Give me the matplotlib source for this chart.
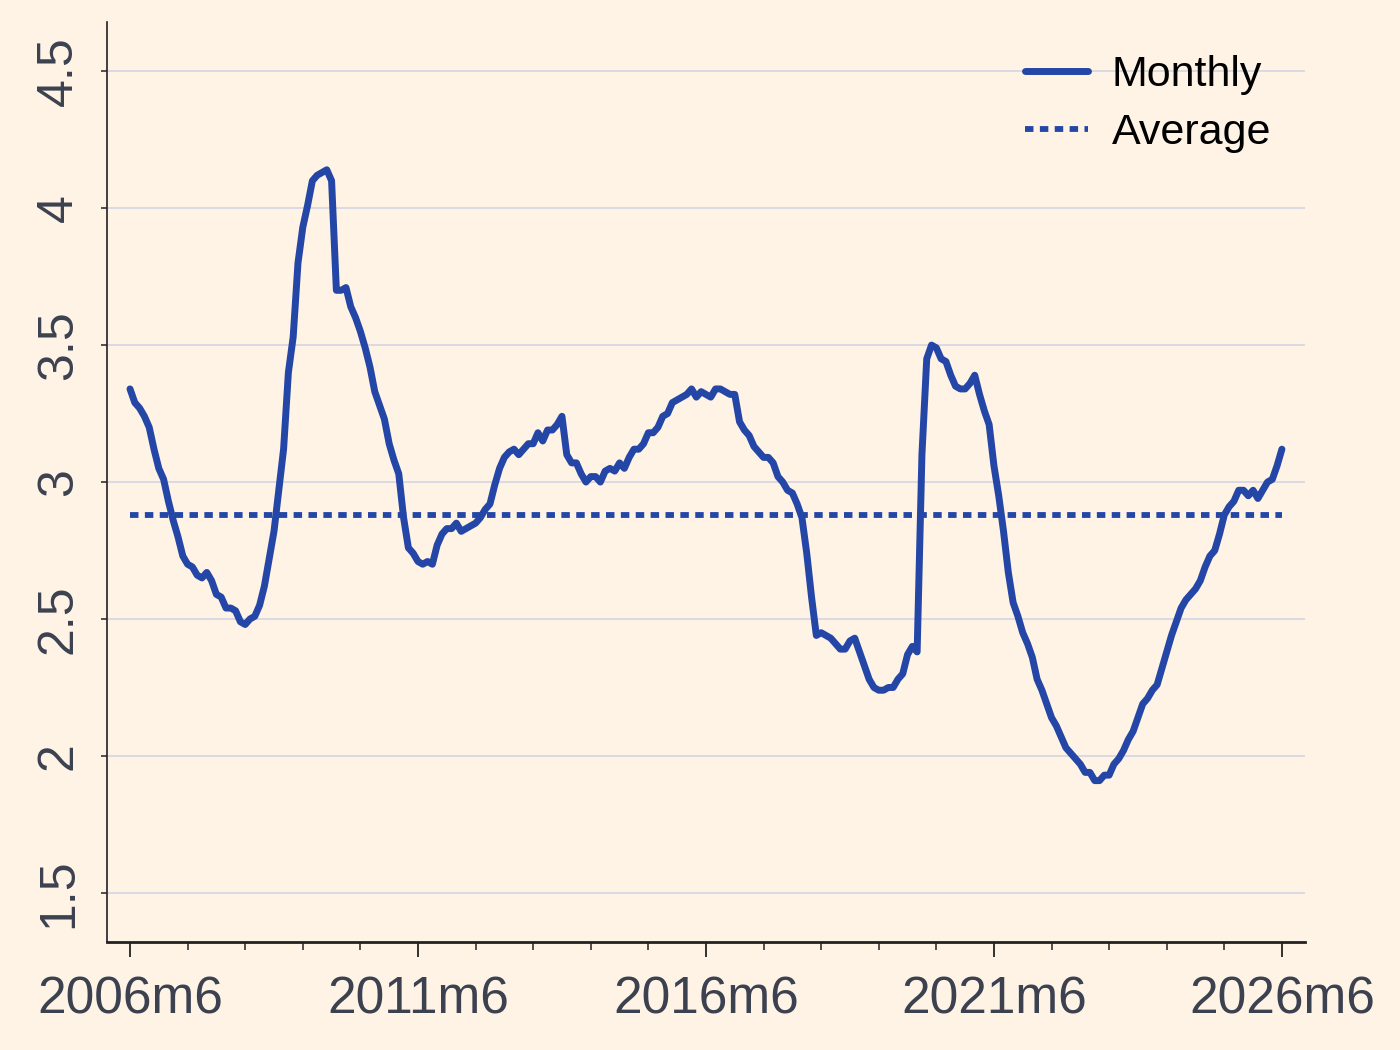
import numpy as np
import matplotlib
matplotlib.use("Agg")
import matplotlib.pyplot as plt

# monthly values, 2006m6 .. 2026m6 (one row = 12 months starting in June)
monthly = [
    3.34, 3.29, 3.27, 3.24, 3.20, 3.12, 3.05, 3.01, 2.93, 2.86, 2.80, 2.73,
    2.70, 2.69, 2.66, 2.65, 2.67, 2.64, 2.59, 2.58, 2.54, 2.54, 2.53, 2.49,
    2.48, 2.50, 2.51, 2.55, 2.62, 2.72, 2.82, 2.97, 3.12, 3.40, 3.53, 3.80,
    3.93, 4.01, 4.10, 4.12, 4.13, 4.14, 4.10, 3.70, 3.70, 3.71, 3.64, 3.60,
    3.55, 3.49, 3.42, 3.33, 3.28, 3.23, 3.14, 3.08, 3.03, 2.87, 2.76, 2.74,
    2.71, 2.70, 2.71, 2.70, 2.77, 2.81, 2.83, 2.83, 2.85, 2.82, 2.83, 2.84,
    2.85, 2.87, 2.90, 2.92, 2.99, 3.05, 3.09, 3.11, 3.12, 3.10, 3.12, 3.14,
    3.14, 3.18, 3.15, 3.19, 3.19, 3.21, 3.24, 3.10, 3.07, 3.07, 3.03, 3.00,
    3.02, 3.02, 3.00, 3.04, 3.05, 3.04, 3.07, 3.05, 3.09, 3.12, 3.12, 3.14,
    3.18, 3.18, 3.20, 3.24, 3.25, 3.29, 3.30, 3.31, 3.32, 3.34, 3.31, 3.33,
    3.32, 3.31, 3.34, 3.34, 3.33, 3.32, 3.32, 3.22, 3.19, 3.17, 3.13, 3.11,
    3.09, 3.09, 3.07, 3.02, 3.00, 2.97, 2.96, 2.92, 2.87, 2.74, 2.58, 2.44,
    2.45, 2.44, 2.43, 2.41, 2.39, 2.39, 2.42, 2.43, 2.38, 2.33, 2.28, 2.25,
    2.24, 2.24, 2.25, 2.25, 2.28, 2.30, 2.37, 2.40, 2.38, 3.10, 3.45, 3.50,
    3.49, 3.45, 3.44, 3.39, 3.35, 3.34, 3.34, 3.36, 3.39, 3.32, 3.26, 3.21,
    3.06, 2.95, 2.82, 2.67, 2.56, 2.51, 2.45, 2.41, 2.36, 2.28, 2.24, 2.19,
    2.14, 2.11, 2.07, 2.03, 2.01, 1.99, 1.97, 1.94, 1.94, 1.91, 1.91, 1.93,
    1.93, 1.97, 1.99, 2.02, 2.06, 2.09, 2.14, 2.19, 2.21, 2.24, 2.26, 2.32,
    2.38, 2.44, 2.49, 2.54, 2.57, 2.59, 2.61, 2.64, 2.69, 2.73, 2.75, 2.81,
    2.88, 2.91, 2.93, 2.97, 2.97, 2.95, 2.97, 2.94, 2.97, 3.00, 3.01, 3.06,
    3.12,
]
average = 2.88
xlabels = ["2006m6", "2011m6", "2016m6", "2021m6", "2026m6"]
ylabels = ["1.5", "2", "2.5", "3", "3.5", "4", "4.5"]

bg = "#fef3e5"
blue = "#2446a6"
txt = "#3c4150"

plt.rcParams['font.family'] = ['Liberation Sans', 'DejaVu Sans']

fig = plt.figure(figsize=(14, 10.5), dpi=100, facecolor=bg)
ax = fig.add_axes([0.0764, 0.1029, 0.8557, 0.876])
ax.set_facecolor(bg)

m = np.arange(len(monthly))
ax.plot(m, monthly, color=blue, lw=5, solid_joinstyle='round',
        solid_capstyle='round', label="Monthly", zorder=3)
ax.plot([m[0], m[-1]], [average, average], color=blue, lw=4.2,
        linestyle=(0, (1.45, 1.1)), label="Average", zorder=2)

ax.set_xlim(-4.8, 244.8)
ax.set_ylim(1.321, 4.679)

yt = [float(v) for v in ylabels]
ax.set_yticks(yt)
ax.set_yticklabels(ylabels, rotation=90, va='center', fontsize=36, color=txt)
for v in yt:
    ax.axhline(v, color="#d3d6e2", lw=1.2, zorder=1)

ax.set_xticks(np.arange(0, len(monthly), 60))
ax.set_xticklabels(xlabels, fontsize=37, color=txt)
ax.set_xticks(np.arange(0, len(monthly), 12), minor=True)

ax.tick_params(axis='x', which='major', length=11, width=1.3, pad=13, color='#222222')
ax.tick_params(axis='x', which='minor', length=6, width=1.1, color='#222222')
ax.tick_params(axis='y', which='major', length=4, width=1.1, pad=14, color='#222222')

for s in ['top', 'right']:
    ax.spines[s].set_visible(False)
ax.spines['left'].set_color('#222222')
ax.spines['left'].set_linewidth(1.2)
ax.spines['bottom'].set_color('#222222')
ax.spines['bottom'].set_linewidth(2)

leg = ax.legend(loc='upper right', bbox_to_anchor=(1.004, 1.006), frameon=False,
                fontsize=31, handlelength=1.45, handletextpad=0.55, labelspacing=0.42)

fig.savefig("out.png", dpi=100, facecolor=bg)
